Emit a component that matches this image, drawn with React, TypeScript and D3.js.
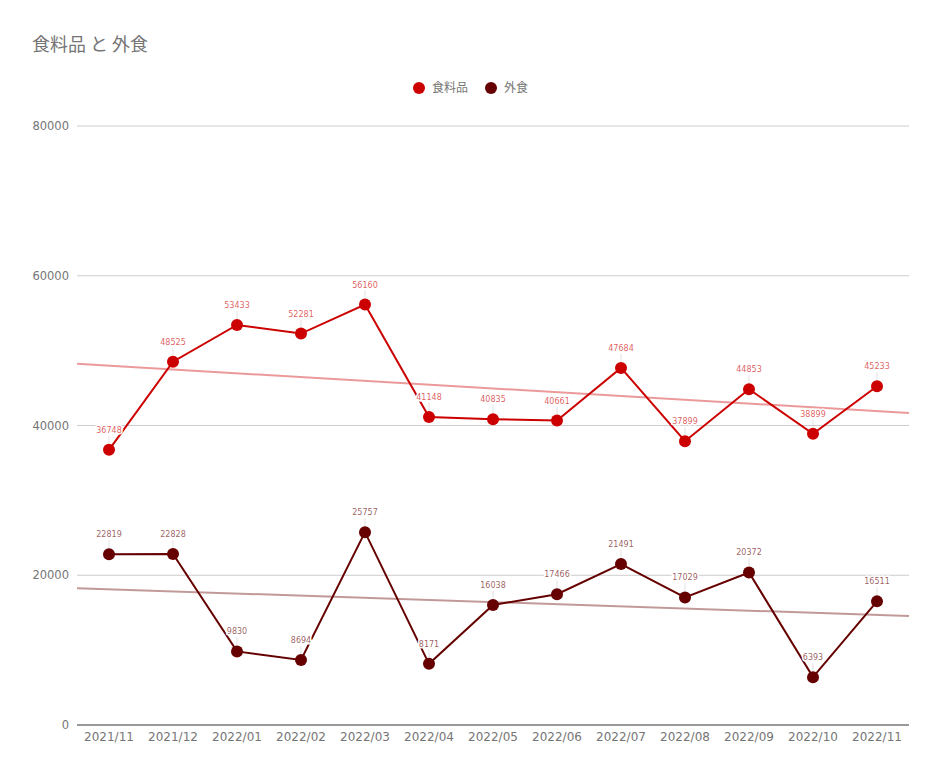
import React from "react";
import * as d3 from "d3";

const categories = ["2021/11","2021/12","2022/01","2022/02","2022/03","2022/04","2022/05","2022/06","2022/07","2022/08","2022/09","2022/10","2022/11"];
const foodValues = [36748,48525,53433,52281,56160,41148,40835,40661,47684,37899,44853,38899,45233];
const dineValues = [22819,22828,9830,8694,25757,8171,16038,17466,21491,17029,20372,6393,16511];
const yTicks = [0,20000,40000,60000,80000];
const seriesNames = ["食料品","外食"];
const seriesColors = ["#cc0000","#660000"];

const W = 943, H = 778;
const left = 77, right = 909, top = 126, bottom = 725;
const font = "'DejaVu Sans', 'Noto Sans CJK JP', sans-serif";
const cjk = "'Noto Sans CJK JP', sans-serif";

function regression(vals: number[]) {
  const xs = vals.map((_, i) => i);
  const mx = d3.mean(xs)!, my = d3.mean(vals)!;
  let num = 0, den = 0;
  xs.forEach((x, i) => { num += (x - mx) * (vals[i] - my); den += (x - mx) * (x - mx); });
  const b = num / den;
  const a = my - b * mx;
  return (x: number) => a + b * x;
}

export default function App() {
  const x = d3.scaleBand<string>().domain(categories).range([left, right]).padding(0);
  const y = d3.scaleLinear().domain([0, 80000]).range([bottom, top]);
  const cx = (i: number) => x(categories[i])! + x.bandwidth() / 2;
  const step = x.bandwidth();
  const idxToX = (t: number) => left + step * (t + 0.5);
  const line = d3.line<number>().x((_, i) => cx(i)).y(d => y(d));
  const series = [foodValues, dineValues];

  return (
    <svg width={W} height={H} style={{ position: "absolute", left: 0, top: 0, background: "#fff" }}>
      <text x={32} y={51} fontFamily={cjk} fontSize={18} fill="#757575">食料品 と 外食</text>
      {/* legend */}
      <g fontFamily={cjk} fontSize={12} fill="#757575">
        <circle cx={419} cy={88} r={6} fill={seriesColors[0]} />
        <text x={432} y={92}>{seriesNames[0]}</text>
        <circle cx={491} cy={88} r={6} fill={seriesColors[1]} />
        <text x={504} y={92}>{seriesNames[1]}</text>
      </g>
      {/* grid */}
      {yTicks.map(t => (
        <g key={t}>
          {t !== 0 && <line x1={left} x2={right} y1={y(t)} y2={y(t)} stroke="#cccccc" strokeWidth={1} />}
          <text x={69} y={y(t) + 4} textAnchor="end" fontFamily={font} fontSize={11.5} fill="#757575">{t}</text>
        </g>
      ))}
      {/* x labels */}
      {categories.map((c, i) => (
        <text key={c} x={cx(i)} y={741} textAnchor="middle" fontFamily={font} fontSize={12} fill="#757575">{c}</text>
      ))}
      {/* trendlines */}
      {series.map((vals, s) => {
        const f = regression(vals);
        return (
          <line key={"t" + s} x1={idxToX(-0.5)} x2={idxToX(categories.length - 0.5)}
            y1={y(f(-0.5))} y2={y(f(categories.length - 0.5))}
            stroke={seriesColors[s]} strokeOpacity={0.4} strokeWidth={2} />
        );
      })}
      {/* series lines */}
      {series.map((vals, s) => (
        <path key={"l" + s} d={line(vals)!} fill="none" stroke={seriesColors[s]} strokeWidth={2} />
      ))}
      {/* points */}
      {series.map((vals, s) => vals.map((v, i) => (
        <circle key={"p" + s + i} cx={cx(i)} cy={y(v)} r={6} fill={seriesColors[s]} />
      )))}
      {/* stems + labels */}
      {series.map((vals, s) => vals.map((v, i) => (
        <g key={"a" + s + i}>
          <line x1={cx(i)} x2={cx(i)} y1={y(v) - 6} y2={y(v) - 14} stroke="#999" strokeOpacity={0.3} strokeWidth={1} />
          <text x={cx(i)} y={y(v) - 17} textAnchor="middle" fontFamily={font} fontSize={8}
            fill={seriesColors[s]} fillOpacity={0.65} stroke="#fff" strokeWidth={3} strokeOpacity={1}
            style={{ paintOrder: "stroke" }}>{v}</text>
        </g>
      )))}
      {/* baseline */}
      <line x1={left} x2={right} y1={y(0)} y2={y(0)} stroke="#333333" strokeWidth={1} />
    </svg>
  );
}
